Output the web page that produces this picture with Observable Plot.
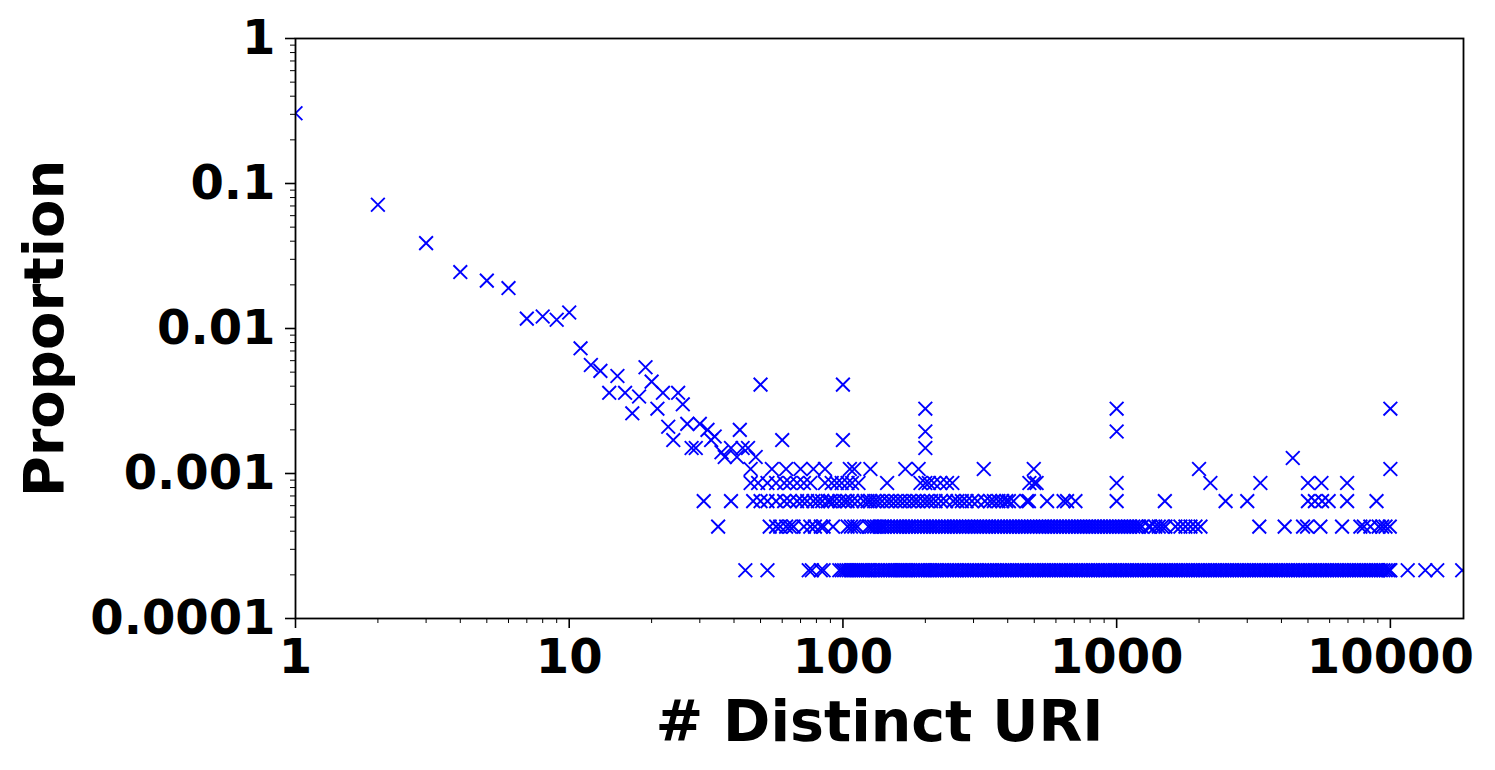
<!DOCTYPE html>
<html>
<head>
<meta charset="utf-8">
<script src="https://cdn.jsdelivr.net/npm/d3@7"></script>
<script src="https://cdn.jsdelivr.net/npm/@observablehq/plot@0.6"></script>
<style>
  html, body { margin: 0; padding: 0; background: #fff; }
  #chart { width: 1495px; height: 770px; }
</style>
</head>
<body>
<div id="chart"></div>
<script>
// Individually placed points: # distinct URI and proportion
const scatterUri = [1, 2, 3, 4, 5, 6, 7, 8, 9, 10, 11, 12, 13, 14, 15, 16, 17, 18, 19, 20,
  21, 22, 23, 24, 25, 26, 27, 28, 29, 30, 32, 33, 34, 36, 37, 39, 41, 42, 43, 45, 48,
  50, 60, 100, 100, 200, 200, 200, 1000, 1000, 4400, 10000];
const scatterProp = [0.305, 0.0713, 0.0388, 0.0245, 0.0214, 0.019, 0.0117, 0.0121, 0.0115, 0.0129,
  0.0073, 0.0056, 0.0051, 0.0036, 0.0047, 0.0036, 0.0026, 0.0034, 0.0054, 0.0043,
  0.0028, 0.0036, 0.0021, 0.0017, 0.0036, 0.003, 0.0022, 0.0015, 0.0015, 0.0022, 0.002, 0.0017, 0.0018,
  0.0014, 0.0013, 0.0015, 0.0013, 0.002, 0.0015, 0.0015, 0.0013,
  0.0041, 0.0017, 0.0041, 0.0017, 0.0028, 0.00195, 0.0015, 0.0028, 0.00195, 0.00128, 0.0028];

// Discrete proportion levels (1..5 users) and the URI counts found on each
const levelProps = [0.000215, 0.00043, 0.000645, 0.00086, 0.001075];

const level1Uri = [44, 53, 75, 77, 83, 85,
  97, 99, 101, 103, 105, 107, 109, 111, 113, 115, 117, 119, 121, 123, 125, 128, 131, 134, 137, 140,
  143, 146, 149, 152, 155, 158, 161, 164, 167, 170, 173, 176, 180, 184, 188, 192, 196, 200, 204, 208,
  212, 216, 220, 225, 230, 235, 240, 245, 250, 255, 260, 266, 272, 278, 284, 290, 296, 302, 308, 315,
  322, 329, 336, 343, 350, 358, 366, 374, 382, 390, 398, 406, 415, 424, 433, 442, 451, 460, 470, 480,
  490, 500, 510, 521, 532, 543, 554, 565, 577, 589, 601, 614, 627, 640, 653, 667, 681, 695, 710, 725,
  740, 755, 771, 787, 803, 820, 837, 854, 872, 890, 908, 927, 946, 966, 986, 1006, 1027, 1048, 1070,
  1092, 1115, 1138, 1162, 1186, 1210, 1235, 1261, 1287, 1314, 1341, 1369, 1397, 1426, 1456, 1486, 1517,
  1548, 1580, 1613, 1646, 1680, 1715, 1751, 1787, 1824, 1862, 1900, 1940, 1980, 2021, 2063, 2106, 2150,
  2194, 2240, 2286, 2333, 2382, 2431, 2481, 2533, 2585, 2639, 2694, 2750, 2807, 2865, 2924, 2985, 3047,
  3110, 3175, 3241, 3308, 3376, 3446, 3518, 3591, 3665, 3741, 3819, 3898, 3979, 4061, 4145, 4231, 4319,
  4409, 4500, 4593, 4688, 4786, 4885, 4986, 5090, 5195, 5303, 5413, 5525, 5640, 5757, 5876, 5998, 6122,
  6249, 6379, 6511, 6646, 6784, 6925, 7068, 7215, 7365, 7517, 7673, 7832, 7995, 8161, 8330, 8503, 8679,
  8859, 9043, 9230, 9422, 9617, 9817, 9950, 10000, 11570, 13420, 14830, 18300];

const level2Uri = [35, 54, 57, 59, 62, 64, 66, 72, 76, 79, 83, 85, 92, 104, 107, 110, 113,
  124, 127, 130, 133, 136, 139, 142, 146, 150, 154, 158, 162, 166, 170, 174, 178, 183, 188, 193, 198,
  203, 208, 213, 218, 224, 230, 236, 242, 248, 254, 260, 267, 274, 281, 288, 295, 302, 310, 318, 326,
  334, 342, 351, 360, 369, 378, 388, 398, 408, 418, 428, 439, 450, 461, 473, 485, 497, 510, 523, 536,
  549, 563, 577, 591, 606, 621, 637, 653, 669, 686, 703, 721, 739, 757, 776, 795, 815, 835, 856, 877,
  899, 921, 944, 968, 992, 1017, 1042, 1068, 1095, 1122, 1150, 1178, 1207, 1237, 1309, 1327, 1384,
  1425, 1466, 1507, 1640, 1710, 1784, 1861, 1941, 2024, 3320, 4110, 4797, 4963, 5550, 6660, 7770,
  8000, 8450, 9060, 9330, 9600, 9950];

const level3Uri = [31, 39, 47, 50, 53, 57, 61, 64, 68, 71, 74, 78, 81, 84, 88, 90,
  93, 97, 101, 104, 108, 113, 119, 123, 126, 130, 134, 139, 145, 150, 156, 162, 168, 175,
  182, 188, 196, 203, 210, 218, 228, 238, 253, 262, 272, 283, 296, 310, 330, 345, 356, 370, 382,
  395, 404, 420, 470, 478, 557, 640, 659, 707, 1000, 1500, 2500, 3000, 5000, 5300, 5630, 5950, 6950, 8900];

const level4Uri = [46, 49, 53, 57, 61, 64, 68, 72, 76, 86, 91, 95, 99, 104, 108, 114,
  145, 192, 200, 206, 215, 227, 240, 251, 480, 500, 510, 1000, 2200, 3350, 5000, 5600, 6950];

const level5Uri = [46, 55, 62, 70, 78, 86, 106, 110, 126, 169, 189, 327, 498, 2000, 10000];

const xTicks = [1, 10, 100, 1000, 10000];
const xTickLabels = ["1", "10", "100", "1000", "10000"];
const yTicks = [1, 0.1, 0.01, 0.001, 0.0001];
const yTickLabels = ["1", "0.1", "0.01", "0.001", "0.0001"];
const xLabel = "# Distinct URI";
const yLabel = "Proportion";

// Build a single table
const points = scatterUri.map((u, i) => ({uri: u, prop: scatterProp[i]}));
[level1Uri, level2Uri, level3Uri, level4Uri, level5Uri].forEach((arr, li) => {
  arr.forEach(u => points.push({uri: u, prop: levelProps[li]}));
});

// minor ticks
const xMinor = [];
for (let e = 0; e <= 4; e++) for (let m = 2; m <= 9; m++) { const v = m * Math.pow(10, e); if (v <= 18500) xMinor.push(v); }
const yMinor = [];
for (let e = -4; e < 0; e++) for (let m = 2; m <= 9; m++) yMinor.push(+(m * Math.pow(10, e)).toPrecision(3));

const font = "DejaVu Sans";
const chart = Plot.plot({
  width: 1495,
  height: 770,
  marginLeft: 295,
  marginRight: 32,
  marginTop: 38,
  marginBottom: 152,
  style: {fontFamily: font, background: "#fff", color: "#000"},
  x: {type: "log", domain: [1, 18500]},
  y: {type: "log", domain: [0.0001, 1]},
  marks: [
    Plot.dot(points, {x: "uri", y: "prop", symbol: "times", r: 6.3, stroke: "#0000ff", strokeWidth: 1.9, clip: true}),
    Plot.frame({stroke: "#000", strokeWidth: 1.8}),
    Plot.axisX(xMinor, {tickSize: 5, strokeWidth: 1, tickFormat: () => "", label: null}),
    Plot.axisY(yMinor, {tickSize: 5, strokeWidth: 1, tickFormat: () => "", label: null}),
    Plot.axisX(xTicks, {tickSize: 10, strokeWidth: 1.6, tickPadding: 10, fontSize: 48, fontWeight: "bold",
      tickFormat: d => xTickLabels[xTicks.indexOf(d)], label: null}),
    Plot.axisY(yTicks, {tickSize: 10, strokeWidth: 1.6, tickPadding: 10, fontSize: 48, fontWeight: "bold",
      tickFormat: d => yTickLabels[yTicks.indexOf(d)], label: null}),
    Plot.text([xLabel], {text: d => d, frameAnchor: "bottom", textAnchor: "middle", lineAnchor: "middle",
      dy: 104, fontSize: 57, fontWeight: "bold", fill: "#000"}),
    Plot.text([yLabel], {text: d => d, frameAnchor: "left", textAnchor: "middle", lineAnchor: "middle",
      dx: -250, rotate: -90, fontSize: 56, fontWeight: "bold", fill: "#000"})
  ]
});
document.getElementById("chart").appendChild(chart);
</script>
</body>
</html>
